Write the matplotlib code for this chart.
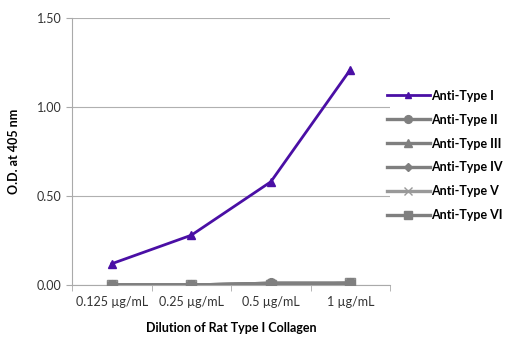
import matplotlib.pyplot as plt
import numpy as np

plt.rcParams['font.family'] = ['Lato', 'DejaVu Sans']

categories = ['0.125 µg/mL', '0.25 µg/mL', '0.5 µg/mL', '1 µg/mL']
type_i = [0.12, 0.28, 0.58, 1.21]
type_ii = [0.00, 0.00, 0.01, 0.01]
type_iii = [0.00, 0.00, 0.01, 0.01]
type_iv = [0.00, 0.00, 0.01, 0.01]
type_v = [0.00, 0.00, 0.00, 0.01]
type_vi = [0.00, 0.00, 0.00, 0.01]

series = [
    ('Anti-Type I', type_i, '#4a0fa5', '^'),
    ('Anti-Type II', type_ii, '#7f7f7f', 'o'),
    ('Anti-Type III', type_iii, '#7f7f7f', '^'),
    ('Anti-Type IV', type_iv, '#7f7f7f', 'D'),
    ('Anti-Type V', type_v, '#999999', 'x'),
    ('Anti-Type VI', type_vi, '#7f7f7f', 's'),
]

fig = plt.figure(figsize=(5.14, 3.39), dpi=100)
ax = fig.add_axes([0.140, 0.159, 0.619, 0.788])

x = np.arange(len(categories))
# grey series first, purple on top
for name, vals, col, mk in series[1:][::-1]:
    ax.plot(x, vals, color=col, marker=mk, markersize=7 if mk != 'D' else 5,
            linewidth=2.4, label=name, zorder=3)
ax.plot(x, type_i, color=series[0][2], marker='^', markersize=6,
        linewidth=2, label='Anti-Type I', zorder=4)

ax.set_xlim(-0.5, 3.5)
ax.set_ylim(0, 1.5)
ax.set_yticks([0, 0.5, 1.0, 1.5])
ax.set_yticklabels(['0.00', '0.50', '1.00', '1.50'], fontsize=9, color='#333333')
ax.set_xticks(x)
ax.set_xticklabels(categories, fontsize=9, color='#333333')
ax.set_xticks([-0.5, 0.5, 1.5, 2.5, 3.5], minor=True)
ax.tick_params(axis='x', which='major', length=0, pad=8)
ax.tick_params(axis='x', which='minor', length=4, color='#aaaaaa')
ax.tick_params(axis='y', length=4, color='#aaaaaa')

ax.grid(axis='y', color='#b0b0b0', linewidth=0.8)
ax.set_axisbelow(True)
for s in ['top', 'right']:
    ax.spines[s].set_visible(False)
ax.spines['left'].set_color('#aaaaaa')
ax.spines['bottom'].set_color('#aaaaaa')

ax.set_xlabel('Dilution of Rat Type I Collagen', fontsize=9, fontweight='bold', labelpad=10)
ax.set_ylabel('O.D. at 405 nm', fontsize=9, fontweight='bold', labelpad=12)

h, l = ax.get_legend_handles_labels()
order = [l.index(s[0]) for s in series]
ax.legend([h[i] for i in order], [l[i] for i in order], loc='center left',
          bbox_to_anchor=(0.955, 0.485), frameon=False,
          prop={'weight': 'bold', 'size': 9}, labelspacing=0.95,
          handlelength=3.4, handletextpad=0.15, markerscale=0.8)

fig.savefig('out.png', dpi=100)
